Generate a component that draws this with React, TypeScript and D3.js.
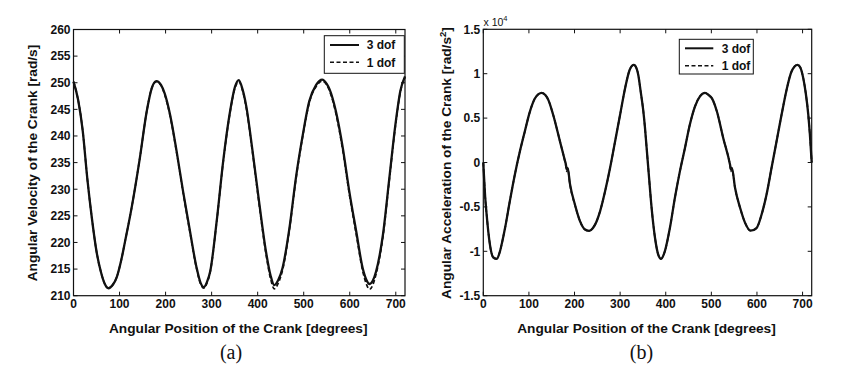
import React from "react";
import * as d3 from "d3";

// ---------- Data ----------
const velDeg = [0, 10, 20, 30, 40, 50, 60, 68, 76, 85, 94, 104, 112, 126, 144, 159, 170, 180, 190, 198, 210, 224, 238, 253, 267, 276, 283, 290, 297, 311, 325, 340, 351, 359, 367, 375, 389, 403, 418, 428, 436, 445, 454, 469, 483, 498, 512, 527, 540, 550, 556, 570, 585, 599, 614, 628, 636, 643, 650, 657, 672, 686, 700, 710, 720];
const vel3dof = [250.2, 246.8, 241.0, 232.0, 224.5, 218.3, 214.3, 212.2, 211.4, 212.0, 213.5, 216.8, 220.2, 226.4, 235.8, 244.6, 249.0, 250.3, 249.6, 248.0, 243.9, 237.1, 229.6, 222.1, 215.4, 212.4, 211.6, 212.6, 214.6, 224.0, 235.2, 244.6, 249.3, 250.5, 248.8, 245.7, 237.1, 227.7, 218.3, 213.8, 212.0, 213.0, 215.2, 222.7, 232.1, 240.2, 246.5, 249.6, 250.6, 249.8, 248.8, 244.6, 237.7, 229.6, 222.1, 215.2, 213.0, 212.2, 212.8, 214.5, 221.4, 232.1, 242.7, 248.5, 251.2];
const vel1dof = [250.2, 246.8, 241.0, 232.0, 224.5, 218.3, 214.3, 212.2, 211.4, 212.0, 213.5, 216.8, 220.2, 226.4, 235.8, 244.6, 249.0, 250.2, 249.5, 247.8, 243.7, 236.9, 229.4, 221.9, 215.2, 212.2, 211.4, 212.4, 214.5, 223.9, 235.0, 244.4, 249.1, 250.2, 248.6, 245.4, 236.8, 227.3, 217.9, 213.2, 211.3, 212.4, 214.8, 222.4, 231.8, 240.0, 246.2, 249.3, 250.3, 249.6, 248.5, 244.2, 237.2, 229.1, 221.6, 214.7, 212.2, 211.2, 212.0, 214.0, 221.0, 231.8, 242.4, 248.3, 251.0];

const accDeg = [0, 1.5, 4, 7.4, 11, 14.7, 22, 29.3, 36.6, 42, 48, 58, 69, 80, 91, 102, 113, 121, 128, 136, 143, 153, 168, 179, 181, 183, 185, 190, 201, 212, 223, 232, 240, 245, 256, 267, 278, 289, 300, 311, 321, 330, 336, 340, 345, 350.8, 354.5, 358, 362, 369, 376.5, 383.7, 389.6, 398, 409, 420, 431, 442, 453, 464, 475, 486, 494, 501, 512, 526, 541, 543, 545, 552, 563, 574, 586, 599, 610, 621, 632, 643, 654, 665, 676, 689, 695, 701.5, 707, 712.5, 716, 720];
const acc3dof = [0, -0.15, -0.38, -0.59, -0.78, -0.93, -1.07, -1.085, -1.0, -0.88, -0.73, -0.44, -0.14, 0.12, 0.35, 0.57, 0.72, 0.77, 0.785, 0.76, 0.7, 0.54, 0.24, 0.02, -0.02, -0.08, -0.06, -0.24, -0.475, -0.66, -0.755, -0.77, -0.74, -0.7, -0.55, -0.325, -0.06, 0.24, 0.54, 0.84, 1.045, 1.1, 1.06, 0.98, 0.8, 0.58, 0.39, 0.17, -0.08, -0.51, -0.85, -1.04, -1.085, -1.0, -0.74, -0.4, -0.1, 0.16, 0.43, 0.63, 0.745, 0.783, 0.76, 0.725, 0.577, 0.276, -0.025, -0.08, -0.06, -0.287, -0.51, -0.68, -0.768, -0.738, -0.588, -0.36, -0.06, 0.24, 0.54, 0.82, 1.027, 1.1, 1.07, 0.95, 0.78, 0.54, 0.32, 0.0];
const acc1dof = [0, -0.15, -0.38, -0.59, -0.78, -0.93, -1.07, -1.085, -1.0, -0.88, -0.73, -0.44, -0.14, 0.12, 0.35, 0.57, 0.72, 0.77, 0.785, 0.76, 0.7, 0.54, 0.24, 0.01, -0.04, -0.1, -0.07, -0.25, -0.48, -0.66, -0.755, -0.77, -0.74, -0.7, -0.55, -0.325, -0.06, 0.24, 0.54, 0.84, 1.045, 1.1, 1.06, 0.98, 0.8, 0.58, 0.39, 0.17, -0.08, -0.51, -0.85, -1.04, -1.085, -1.0, -0.74, -0.4, -0.1, 0.16, 0.43, 0.63, 0.745, 0.783, 0.76, 0.725, 0.577, 0.276, -0.035, -0.1, -0.07, -0.29, -0.51, -0.68, -0.768, -0.738, -0.588, -0.36, -0.06, 0.24, 0.54, 0.82, 1.027, 1.1, 1.07, 0.95, 0.78, 0.54, 0.32, 0.0];

const xTicks = [0, 100, 200, 300, 400, 500, 600, 700];
const velTicks = [210, 215, 220, 225, 230, 235, 240, 245, 250, 255, 260];
const accTicks = [-1.5, -1, -0.5, 0, 0.5, 1, 1.5];
const seriesNames = ["3 dof", "1 dof"];
const xLabel = "Angular Position of the Crank [degrees]";

const FONT = "'Liberation Sans', Arial, Helvetica, sans-serif";
const INK = "#111";

type PanelProps = {
  left: number; right: number; top: number; bottom: number;
  yDomain: [number, number];
  yTicks: number[];
  xs: number[];
  s3: number[];
  s1: number[];
  yFmt: (v: number) => string;
  legend: { x0: number; x1: number; y0: number; y1: number; lx0: number; lx1: number; tx: number; ly: [number, number] };
};

function Panel(p: PanelProps) {
  const x = d3.scaleLinear().domain([0, 720]).range([p.left, p.right]);
  const y = d3.scaleLinear().domain(p.yDomain).range([p.bottom, p.top]);
  const line = d3.line<number>()
    .x((_, i) => x(p.xs[i]))
    .y((v) => y(v))
    .curve(d3.curveMonotoneX);
  const tl = 4;
  return (
    <g>
      <rect x={p.left} y={p.top} width={p.right - p.left} height={p.bottom - p.top} fill="#fff" stroke="none" />
      <path d={line(p.s1) || ""} fill="none" stroke={INK} strokeWidth={1.7} strokeDasharray="4,2.5" />
      <path d={line(p.s3) || ""} fill="none" stroke={INK} strokeWidth={2.3} />
      {/* frame */}
      <rect x={p.left} y={p.top} width={p.right - p.left} height={p.bottom - p.top} fill="none" stroke={INK} strokeWidth={1.2} />
      {xTicks.map((t) => (
        <g key={"xt" + t}>
          <line x1={x(t)} x2={x(t)} y1={p.bottom} y2={p.bottom - tl} stroke={INK} strokeWidth={1} />
          <line x1={x(t)} x2={x(t)} y1={p.top} y2={p.top + tl} stroke={INK} strokeWidth={1} />
          <text x={x(t)} y={p.bottom + 12.6} textAnchor="middle" fontFamily={FONT} fontWeight="bold" fontSize={12} fill={INK}>{t}</text>
        </g>
      ))}
      {p.yTicks.map((t) => (
        <g key={"yt" + t}>
          <line x1={p.left} x2={p.left + tl} y1={y(t)} y2={y(t)} stroke={INK} strokeWidth={1} />
          <line x1={p.right} x2={p.right - tl} y1={y(t)} y2={y(t)} stroke={INK} strokeWidth={1} />
          <text x={p.left - 3} y={y(t) + 4.3} textAnchor="end" fontFamily={FONT} fontWeight="bold" fontSize={12} fill={INK}>{p.yFmt(t)}</text>
        </g>
      ))}
      {/* legend */}
      <rect x={p.legend.x0} y={p.legend.y0} width={p.legend.x1 - p.legend.x0} height={p.legend.y1 - p.legend.y0} fill="#fff" stroke={INK} strokeWidth={1} />
      <line x1={p.legend.lx0} x2={p.legend.lx1} y1={p.legend.ly[0]} y2={p.legend.ly[0]} stroke={INK} strokeWidth={2} />
      <line x1={p.legend.lx0} x2={p.legend.lx1} y1={p.legend.ly[1]} y2={p.legend.ly[1]} stroke={INK} strokeWidth={1.5} strokeDasharray="4,2.5" />
      <text x={p.legend.tx} y={p.legend.ly[0] + 4.3} fontFamily={FONT} fontWeight="bold" fontSize={12} fill={INK}>{seriesNames[0]}</text>
      <text x={p.legend.tx} y={p.legend.ly[1] + 4.3} fontFamily={FONT} fontWeight="bold" fontSize={12} fill={INK}>{seriesNames[1]}</text>
      <text x={(p.left + p.right) / 2 - 1} y={333} textAnchor="middle" fontFamily={FONT} fontWeight="bold" fontSize={13.7} fill={INK}>{xLabel}</text>
    </g>
  );
}

export default function App() {
  return (
    <svg width={844} height={374} style={{ position: "absolute", left: 0, top: 0, background: "#fff" }}>
      <rect x={0} y={0} width={844} height={374} fill="#fff" />
      <Panel
        left={73.5} right={405} top={29.5} bottom={295.7}
        yDomain={[210, 260]} yTicks={velTicks}
        xs={velDeg} s3={vel3dof} s1={vel1dof}
        yFmt={(v) => String(v)}
        legend={{ x0: 324.3, x1: 404.3, y0: 35.7, y1: 73.3, lx0: 330, lx1: 359, tx: 366.7, ly: [45, 62.3] }}
      />
      <Panel
        left={483.3} right={811.7} top={29.3} bottom={295.7}
        yDomain={[-1.5, 1.5]} yTicks={accTicks}
        xs={accDeg} s3={acc3dof} s1={acc1dof}
        yFmt={(v) => String(v)}
        legend={{ x0: 679.3, x1: 753.3, y0: 39.3, y1: 74, lx0: 685, lx1: 713.3, tx: 721.7, ly: [48.3, 65.7] }}
      />
      {/* y labels */}
      <text transform="translate(37,163) rotate(-90)" textAnchor="middle" fontFamily={FONT} fontWeight="bold" fontSize={13.7} fill={INK}>
        Angular Velocity of the Crank [rad/s]
      </text>
      <text transform="translate(451,163) rotate(-90)" textAnchor="middle" fontFamily={FONT} fontWeight="bold" fontSize={13.7} fill={INK}>
        Angular Acceleration of the Crank [rad/s<tspan dy={-5.5} fontSize={9.5}>2</tspan><tspan dy={5.5}>]</tspan>
      </text>
      {/* exponent */}
      <text x={483.5} y={25.5} fontFamily={FONT} fontSize={10.5} fill={INK}>
        x 10<tspan dy={-5} fontSize={7.5}>4</tspan>
      </text>
      {/* captions */}
      <text x={231} y={359} textAnchor="middle" fontFamily="'Liberation Serif', 'Times New Roman', serif" fontSize={20} fill={INK}>(a)</text>
      <text x={641.5} y={359} textAnchor="middle" fontFamily="'Liberation Serif', 'Times New Roman', serif" fontSize={20} fill={INK}>(b)</text>
    </svg>
  );
}
